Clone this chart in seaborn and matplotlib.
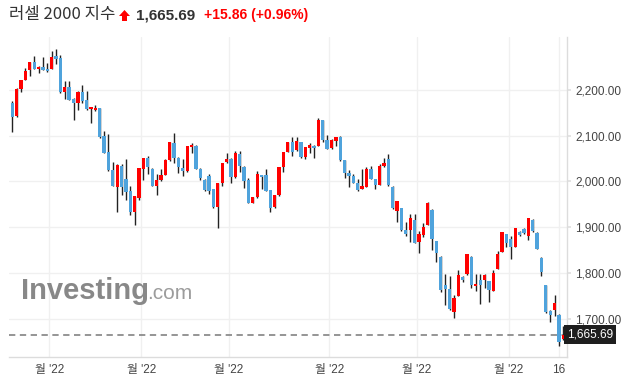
import numpy as np
import pandas as pd
import matplotlib
matplotlib.use("Agg")
import matplotlib.pyplot as plt
import seaborn as sns
from matplotlib.patches import Polygon

# 일봉 데이터 (러셀 2000, 화면에서 읽은 값)
opens = [2172, 2142, 2202, 2222, 2242, 2260, 2245, 2250, 2246, 2246,
         2274, 2269, 2194, 2206, 2180, 2170, 2196, 2177, 2157, 2155,
         2160, 2098, 2064, 2024, 1988, 2033, 2006, 1980, 1934, 1964,
         2028, 2052, 2028, 1991, 2002, 2014, 2046, 2083, 2052, 2030,
         2022, 2075, 2078, 2028, 2004, 2011, 1983, 1944, 1996, 2042,
         2048, 2009, 2060, 2032, 2002, 1953, 1965, 2014, 2013, 1981,
         1944, 1970, 2032, 2065, 2087, 2068, 2086, 2054, 2072, 2078,
         2078, 2133, 2091, 2072, 2089, 2096, 2046, 2019, 2012, 1997,
         1983, 1988, 2027, 2005, 1993, 2033, 2049, 1988, 1936, 1941,
         1894, 1895, 1916, 1867, 1883, 1905, 1938, 1870, 1836, 1775,
         1766, 1716, 1750, 1792, 1797, 1836, 1771, 1786, 1786, 1782,
         1761, 1809, 1846, 1885, 1874, 1857, 1890, 1896, 1881, 1915,
         1888, 1834, 1773, 1718, 1719, 1709, 1657]
highs = [2175, 2203, 2222, 2247, 2261, 2274, 2251, 2271, 2258, 2285,
         2288, 2276, 2220, 2218, 2181, 2198, 2211, 2197, 2163, 2167,
         2161, 2111, 2104, 2043, 2038, 2037, 2049, 1989, 1969, 2030,
         2052, 2056, 2029, 2017, 2027, 2048, 2086, 2106, 2053, 2049,
         2078, 2084, 2079, 2029, 2006, 2017, 1984, 1996, 2041, 2061,
         2051, 2066, 2067, 2033, 2007, 1966, 2022, 2015, 2028, 1982,
         1971, 2032, 2065, 2087, 2096, 2096, 2087, 2076, 2083, 2079,
         2139, 2134, 2102, 2093, 2096, 2098, 2047, 2025, 2017, 2005,
         2028, 2031, 2034, 2006, 2037, 2052, 2060, 1989, 1958, 1942,
         1911, 1928, 1930, 1891, 1909, 1956, 1939, 1871, 1837, 1799,
         1794, 1753, 1806, 1793, 1841, 1837, 1799, 1799, 1799, 1783,
         1807, 1848, 1889, 1886, 1881, 1899, 1892, 1899, 1921, 1917,
         1889, 1835, 1774, 1719, 1753, 1710, 1684]
lows = [2108, 2140, 2195, 2221, 2230, 2245, 2236, 2243, 2239, 2245,
        2256, 2193, 2180, 2177, 2134, 2155, 2171, 2155, 2128, 2154,
        2095, 2062, 2023, 1989, 1933, 1970, 1960, 1927, 1904, 1960,
        2004, 2016, 1989, 1971, 2001, 2013, 2045, 2041, 2019, 2012,
        2021, 2062, 2027, 2004, 1980, 1972, 1943, 1898, 1991, 2041,
        1997, 2008, 2021, 1986, 1952, 1952, 1964, 1984, 1978, 1933,
        1943, 1969, 2021, 2064, 2056, 2067, 2052, 2049, 2062, 2051,
        2077, 2086, 2070, 2071, 2078, 2045, 2007, 1987, 1996, 1978,
        1983, 1987, 2005, 1984, 1992, 2032, 1989, 1940, 1911, 1892,
        1882, 1867, 1866, 1843, 1878, 1904, 1851, 1824, 1759, 1730,
        1719, 1703, 1749, 1780, 1796, 1767, 1761, 1733, 1767, 1738,
        1760, 1808, 1845, 1857, 1831, 1856, 1880, 1885, 1872, 1890,
        1852, 1794, 1712, 1693, 1707, 1642, 1655]
closes = [2140, 2202, 2221, 2241, 2260, 2246, 2250, 2244, 2240, 2271,
          2267, 2194, 2206, 2178, 2170, 2194, 2176, 2159, 2162, 2161,
          2096, 2063, 2024, 1990, 2035, 1988, 1977, 1934, 1969, 2030,
          2052, 2032, 1991, 2004, 2013, 2046, 2085, 2051, 2032, 2022,
          2078, 2080, 2028, 2008, 1982, 1980, 1944, 1996, 2041, 2049,
          2009, 2062, 2033, 2001, 1953, 1965, 2017, 2009, 1980, 1942,
          1970, 2032, 2065, 2087, 2065, 2088, 2053, 2075, 2079, 2072,
          2133, 2091, 2070, 2091, 2096, 2047, 2019, 2012, 1997, 1981,
          1990, 2027, 2006, 1993, 2033, 2040, 1993, 1943, 1957, 1893,
          1886, 1920, 1866, 1885, 1901, 1953, 1874, 1843, 1764, 1765,
          1721, 1745, 1795, 1784, 1841, 1775, 1777, 1774, 1795, 1764,
          1801, 1841, 1889, 1866, 1857, 1899, 1883, 1888, 1921, 1891,
          1853, 1803, 1715, 1708, 1734, 1650, 1665.69]

month_ticks = [8.5, 29.5, 49.5, 72.5, 92.5, 113.5]
month_labels = ["월 '22"] * 6
last_tick = 125
last_label = "16"
y_ticks = [1700, 1800, 1900, 2000, 2100, 2200]
last_price = 1665.69

df = pd.DataFrame({"open": opens, "high": highs, "low": lows, "close": closes})
df["idx"] = np.arange(len(df))
df["up"] = df["close"] >= df["open"]

RED = "#ff0000"
BLUE = "#4fa3dc"

sns.set_theme(style="white")
plt.rcParams["font.family"] = ["Liberation Sans", "Noto Sans CJK KR"]

W, H = 629, 385
fig = plt.figure(figsize=(W / 100, H / 100), dpi=100)
ax = fig.add_axes([9 / W, 1 - 357 / H, (567 - 9) / W, (357 - 37) / H])

def px(x, y):
    return (x / W, 1 - y / H)

# grid
for t in month_ticks + [last_tick]:
    ax.axvline(t, color="#f0f0f0", lw=1, zorder=0)
for t in y_ticks:
    ax.axhline(t, color="#f0f0f0", lw=1, zorder=0)

# wicks
ax.vlines(df["idx"], df["low"], df["high"], color="#222222", lw=1.0, zorder=2)

# bodies
body_lo = df[["open", "close"]].min(axis=1)
body_h = (df["close"] - df["open"]).abs().clip(lower=3)
colors = np.where(df["up"], RED, BLUE)
ax.bar(df["idx"], body_h, bottom=body_lo, width=0.75, color=colors,
       edgecolor="none", zorder=3)

# last price dashed line
ax.axhline(last_price, color="#8c8c8c", lw=1.3, ls=(0, (3.5, 2.5)), zorder=1)

ax.set_xlim(-0.75, 126.85)
ax.set_ylim(1617, 2315)

ax.set_xticks(month_ticks + [last_tick])
ax.set_xticklabels(month_labels + [last_label], fontsize=8.5, color="#444444")
ax.tick_params(axis="x", length=0, pad=5)

ax.yaxis.tick_right()
ax.set_yticks(y_ticks)
ax.set_yticklabels([f"{v:,.2f}" for v in y_ticks], fontsize=8.5, color="#444444")
ax.tick_params(axis="y", length=3, color="#e0e0e0", pad=3)

for s in ["left", "top"]:
    ax.spines[s].set_visible(False)
for s in ["right", "bottom"]:
    ax.spines[s].set_color("#dcdcdc")
    ax.spines[s].set_linewidth(1)

# price box
ax.text(1.0, last_price, f"{last_price:,.2f}", transform=ax.get_yaxis_transform(),
        ha="left", va="center", fontsize=8.5, color="white",
        bbox=dict(boxstyle="square,pad=0.28", fc="#1e1e1e", ec="none"), zorder=10,
        clip_on=False)

# title
fig.text(*px(9, 15), "러셀 2000 지수", fontsize=12, color="#333333", va="center",
         family=["Noto Sans CJK KR", "DejaVu Sans"])
arrow = [(119, 16), (124.5, 10), (130, 16), (127, 16), (127, 21), (122, 21), (122, 16)]
fig.patches.append(Polygon([px(a, b) for a, b in arrow], closed=True,
                           transform=fig.transFigure, fc=RED, ec="none"))
fig.text(*px(136, 15), "1,665.69", fontsize=11, fontweight="bold", color="#333333",
         va="center")
fig.text(*px(204, 15), "+15.86 (+0.96%)", fontsize=10, fontweight="bold", color=RED,
         va="center")

# watermark
fig.text(*px(21, 299), "Investing", fontsize=21, fontweight="bold", color="#888888",
         va="baseline")
fig.text(*px(147, 299), ".com", fontsize=15, color="#9c9c9c", va="baseline")

fig.savefig("out.png", dpi=100)
